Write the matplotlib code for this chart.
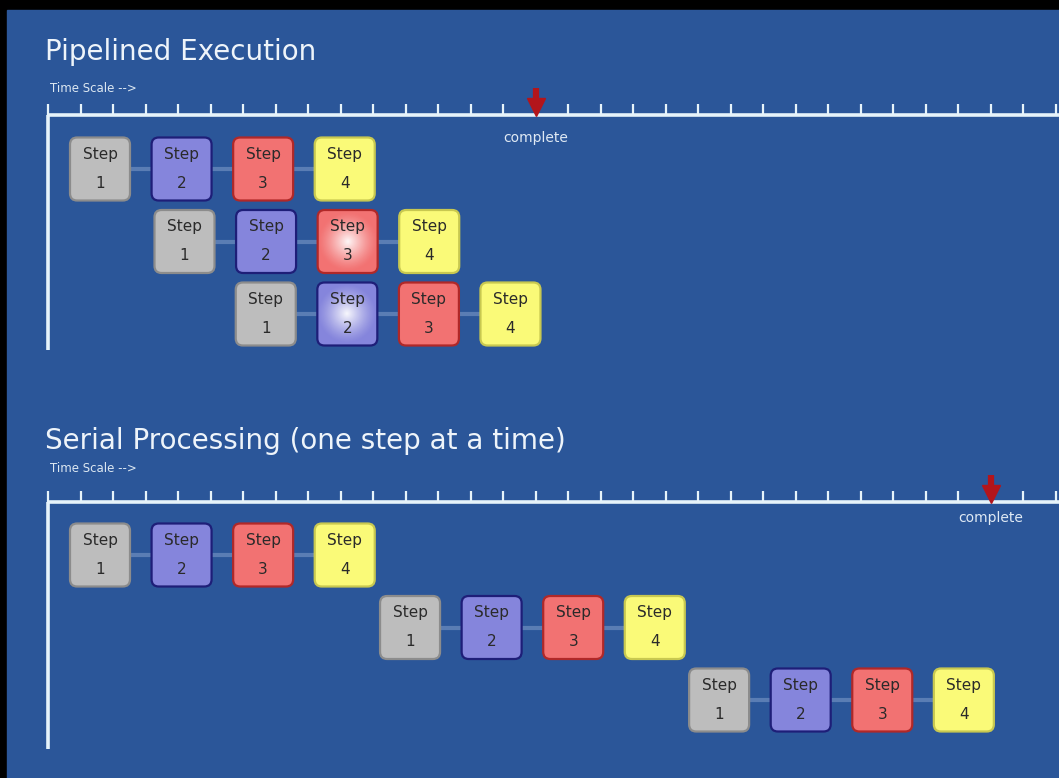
import numpy as np
import matplotlib
matplotlib.use("Agg")
import matplotlib.pyplot as plt
from matplotlib.patches import FancyBboxPatch

# step boxes: label numbers and colours (fill, edge)
step_numbers = ["1", "2", "3", "4"]
step_fill = ["#bdbdbd", "#8585dc", "#f27272", "#fafa78"]
step_edge = ["#8c8c8c", "#1e1e78", "#b02828", "#c8c850"]

# time axis in tick units
n_ticks = 32
step_pitch = 2.51

# centre of step 1 in each row (tick units)
pipe_row_start = [1.6, 4.2, 6.7]
serial_row_start = [1.6, 11.14, 20.65]

pipe_complete = 15
serial_complete = 29

# (row, step) boxes drawn with a highlight
pipe_glow = [(1, 2), (2, 1)]

BG = "#2b5699"
LINE = "#e6f3fa"
ARROW = "#b3151b"

W, H = 1059, 778
fig = plt.figure(figsize=(W / 100, H / 100), dpi=100)
fig.patch.set_facecolor("black")

# background frame in pixel units
bg = fig.add_axes([0, 0, 1, 1])
bg.set_xlim(0, W)
bg.set_ylim(H, 0)
bg.axis("off")
bg.add_patch(plt.Rectangle((7, 10), W - 7, H - 10, color=BG, zorder=0))

PX_T = 32.5   # pixels per tick
X0 = 48       # pixel position of tick 0
PX_R = 72.5   # pixels per row

# radial white highlight
yy, xx = np.mgrid[-1:1:64j, -1:1:64j]
glow_img = np.zeros((64, 64, 4))
glow_img[..., :3] = 1.0
glow_img[..., 3] = np.clip(1 - np.hypot(xx, yy * 1.05), 0, 1) ** 1.3 * 0.95


def panel(top_px, bot_px, row0_px):
    ax = fig.add_axes([0, 1 - bot_px / H, 1, (bot_px - top_px) / H])
    ax.axis("off")
    ax.patch.set_alpha(0)
    return ax


def draw_panel(ax, title, title_y, scale_y, axis_y, vline_end, starts, complete,
               complete_y, glow=()):
    bg.text(45, title_y, title, color="#eef4fa", fontsize=20, family="DejaVu Sans",
            va="center", ha="left")
    bg.text(50, scale_y, "Time Scale -->", color="#dde8f2", fontsize=8.5,
            va="center", ha="left")

    # timeline with ticks
    ax.plot([0, n_ticks], [axis_y, axis_y], color=LINE, lw=2.6, solid_capstyle="butt")
    ax.plot([0, 0], [axis_y, vline_end], color=LINE, lw=2.6, solid_capstyle="butt")
    ticks = np.arange(n_ticks)
    ax.vlines(ticks, axis_y - 11 / PX_R, axis_y, color=LINE, lw=1.6)

    # completion marker: shaft plus head
    ax.plot([complete, complete], [axis_y - 27 / PX_R, axis_y - 12 / PX_R],
            color=ARROW, lw=4.5, solid_capstyle="butt", zorder=5)
    ax.plot(complete, axis_y - 8 / PX_R, marker="v", ms=13, color=ARROW,
            mec=ARROW, zorder=5)
    ax.text(complete, complete_y, "complete", color="#dfe9f4", fontsize=10,
            ha="center", va="center")

    bw, bh = 60 / PX_T, 63 / PX_R
    for r, x_start in enumerate(starts):
        xs = x_start + step_pitch * np.arange(len(step_numbers))
        ax.plot([xs[0], xs[-1]], [r, r], color="#6f8fc0", lw=3, alpha=0.7, zorder=1)
        for i, x in enumerate(xs):
            box = FancyBboxPatch((x - bw / 2, r - bh / 2), bw, bh,
                                 boxstyle="round,pad=0,rounding_size=0.22",
                                 mutation_aspect=PX_T / PX_R,
                                 fc=step_fill[i], ec=step_edge[i], lw=1.6, zorder=3)
            ax.add_patch(box)
            if (r, i) in glow:
                im = ax.imshow(glow_img, extent=(x - bw / 2, x + bw / 2, r + bh / 2, r - bh / 2),
                               zorder=3.5, aspect="auto", interpolation="bilinear")
                im.set_clip_path(box)
            ax.text(x, r - 0.2, "Step", color="#2a2a2a", fontsize=11,
                    ha="center", va="center", zorder=4)
            ax.text(x, r + 0.2, step_numbers[i], color="#2a2a2a", fontsize=11,
                    ha="center", va="center", zorder=4)


def set_limits(ax, top_px, bot_px, row0_px):
    ax.set_xlim(-X0 / PX_T, (W - X0) / PX_T)
    ax.set_ylim((bot_px - row0_px) / PX_R, (top_px - row0_px) / PX_R)


top = panel(80, 360, 169)
draw_panel(top, "Pipelined Execution", 52, 88, (115 - 169) / PX_R, (350 - 169) / PX_R,
           pipe_row_start, pipe_complete, (138 - 169) / PX_R, pipe_glow)
set_limits(top, 80, 360, 169)

bottom = panel(465, 760, 555)
draw_panel(bottom, "Serial Processing (one step at a time)", 441, 468, (502 - 555) / PX_R,
           (749 - 555) / PX_R, serial_row_start, serial_complete, (518 - 555) / PX_R)
set_limits(bottom, 465, 760, 555)

fig.savefig("out.png", dpi=100, facecolor=fig.get_facecolor())
